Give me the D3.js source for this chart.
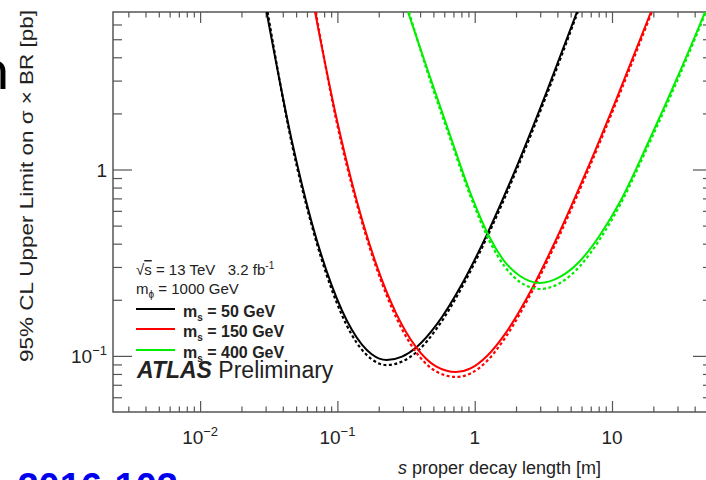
<!DOCTYPE html>
<html>
<head>
<meta charset="utf-8">
<script src="https://cdn.jsdelivr.net/npm/d3@7"></script>
<style>
body { margin: 0; background: #fff; }
text { font-family: "Liberation Sans", Arial, Helvetica, sans-serif; }
</style>
</head>
<body>
<svg id="chart" width="706" height="480"></svg>
<script>
// axis ticks
var xMajor = [0.01, 0.1, 1, 10];
var xMinor = [0.003, 0.004, 0.005, 0.006, 0.007, 0.008, 0.009,
              0.02, 0.03, 0.04, 0.05, 0.06, 0.07, 0.08, 0.09,
              0.2, 0.3, 0.4, 0.5, 0.6, 0.7, 0.8, 0.9,
              2, 3, 4, 5, 6, 7, 8, 9, 20, 30, 40, 50];
var xLabels = [["10", "\u22122"], ["10", "\u22121"], ["1", ""], ["10", ""]];
var yMajor = [0.1, 1];
var yMinor = [0.06, 0.07, 0.08, 0.09, 0.2, 0.3, 0.4, 0.5, 0.6, 0.7, 0.8, 0.9, 2, 3, 4, 5, 6];
var yLabels = [["10", "\u22121"], ["1", ""]];

// m_s = 50 GeV (solid and dashed)
var ms50X      = [0.0305, 0.0465, 0.065, 0.0909, 0.1271, 0.1777, 0.2285, 0.2955, 0.38, 0.531, 0.808, 1.229, 2.033, 3.363, 5.56];
var ms50Y      = [7.0, 1.433, 0.520, 0.239, 0.1385, 0.102, 0.095, 0.0991, 0.112, 0.148, 0.243, 0.449, 1.047, 2.641, 7.0];
var ms50DashX  = [0.031, 0.0465, 0.065, 0.0909, 0.1271, 0.1777, 0.2285, 0.2955, 0.38, 0.531, 0.808, 1.229, 2.033, 3.363, 5.63];
var ms50DashY  = [7.0, 1.381, 0.502, 0.227, 0.130, 0.0959, 0.0893, 0.0932, 0.1053, 0.1408, 0.234, 0.433, 1.009, 2.545, 7.0];
// m_s = 150 GeV
var ms150X     = [0.0687, 0.0977, 0.1366, 0.191, 0.2672, 0.3737, 0.5225, 0.731, 0.94, 1.229, 1.69, 2.57, 3.909, 6.466, 10.69, 19.23];
var ms150Y     = [7.0, 1.937, 0.7035, 0.3127, 0.1697, 0.1115, 0.0879, 0.082, 0.0859, 0.0999, 0.1334, 0.2245, 0.4197, 0.9675, 2.36, 7.0];
var ms150DashX = [0.0695, 0.0977, 0.1366, 0.191, 0.2672, 0.3737, 0.5225, 0.731, 0.94, 1.229, 1.69, 2.57, 3.909, 6.466, 10.69, 19.5];
var ms150DashY = [7.0, 1.866, 0.678, 0.301, 0.1615, 0.1048, 0.0826, 0.0771, 0.0807, 0.0939, 0.127, 0.2163, 0.4044, 0.932, 2.274, 7.0];
// m_s = 400 GeV
var ms400X     = [0.3267, 0.4725, 0.6607, 0.9242, 1.292, 1.663, 2.138, 2.99, 4.181, 5.847, 8.178, 11.63, 18.29, 30.25, 47.57, 53.5];
var ms400Y     = [7.0, 3.137, 1.532, 0.7575, 0.4292, 0.3189, 0.2683, 0.2461, 0.2651, 0.3229, 0.4453, 0.686, 1.388, 3.176, 7.0, 8.74];
var ms400DashX = [0.332, 0.4725, 0.6607, 0.9242, 1.292, 1.663, 2.138, 2.99, 4.181, 5.847, 8.178, 11.63, 18.29, 30.25, 53.5];
var ms400DashY = [7.0, 3.023, 1.476, 0.730, 0.4085, 0.2998, 0.2491, 0.2285, 0.2461, 0.3035, 0.4238, 0.661, 1.337, 3.06, 8.42];

var series = [
    {label: "50", color: "#000000", x: ms50X, y: ms50Y, dx: ms50DashX, dy: ms50DashY},
    {label: "150", color: "#ff0000", x: ms150X, y: ms150Y, dx: ms150DashX, dy: ms150DashY},
    {label: "400", color: "#00ee00", x: ms400X, y: ms400Y, dx: ms400DashX, dy: ms400DashY}
];

var frameL = 113, frameR = 712, frameT = 12, frameB = 412;
var svg = d3.select("#chart");
var x = d3.scaleLog().domain([0.00232, 53.5]).range([frameL, frameR]);
var y = d3.scaleLog().domain([0.05, 7]).range([frameB, frameT]);
var axisColor = "#555";
var textColor = "#222";

// slide fragments around the cropped figure
svg.append("text").attr("x", 9).attr("y", 89).attr("text-anchor", "end")
    .style("font-size", "58px").style("font-family", "Carlito, 'Liberation Sans', sans-serif")
    .attr("fill", "#000").text("n");
svg.append("text").attr("x", 178).attr("y", 500).attr("text-anchor", "end")
    .style("font-size", "38px").style("font-weight", "bold")
    .attr("fill", "#0000ee").text("2016-103");

// clip
svg.append("clipPath").attr("id", "clip").append("rect")
    .attr("x", frameL).attr("y", frameT).attr("width", frameR - frameL).attr("height", frameB - frameT);

function ticks(g) {
    g.select(".domain").remove();
    g.selectAll("line").attr("stroke", axisColor).attr("stroke-width", 1.2);
}
// bottom / top
svg.append("g").attr("transform", "translate(0," + frameB + ")")
    .call(d3.axisBottom(x).tickValues(xMinor).tickSize(-5.5).tickFormat("")).call(ticks);
svg.append("g").attr("transform", "translate(0," + frameB + ")")
    .call(d3.axisBottom(x).tickValues(xMajor).tickSize(-11).tickFormat("")).call(ticks);
svg.append("g").attr("transform", "translate(0," + frameT + ")")
    .call(d3.axisTop(x).tickValues(xMinor).tickSize(-5.5).tickFormat("")).call(ticks);
svg.append("g").attr("transform", "translate(0," + frameT + ")")
    .call(d3.axisTop(x).tickValues(xMajor).tickSize(-11).tickFormat("")).call(ticks);
// left / right
svg.append("g").attr("transform", "translate(" + frameL + ",0)")
    .call(d3.axisLeft(y).tickValues(yMinor).tickSize(-9).tickFormat("")).call(ticks);
svg.append("g").attr("transform", "translate(" + frameL + ",0)")
    .call(d3.axisLeft(y).tickValues(yMajor).tickSize(-19).tickFormat("")).call(ticks);
svg.append("g").attr("transform", "translate(" + frameR + ",0)")
    .call(d3.axisRight(y).tickValues(yMinor).tickSize(-9).tickFormat("")).call(ticks);
svg.append("g").attr("transform", "translate(" + frameR + ",0)")
    .call(d3.axisRight(y).tickValues(yMajor).tickSize(-19).tickFormat("")).call(ticks);

svg.append("rect").attr("x", frameL).attr("y", frameT)
    .attr("width", frameR - frameL).attr("height", frameB - frameT)
    .attr("fill", "none").attr("stroke", axisColor).attr("stroke-width", 1.5);

// tick labels
xMajor.forEach(function(v, i) {
    var t = svg.append("text").attr("x", x(v)).attr("y", 444)
        .attr("text-anchor", "middle").attr("fill", textColor).style("font-size", "19px");
    t.append("tspan").text(xLabels[i][0]);
    if (xLabels[i][1]) t.append("tspan").attr("dy", -8).style("font-size", "13px").text(xLabels[i][1]);
});
yMajor.forEach(function(v, i) {
    var t = svg.append("text").attr("x", 107).attr("y", y(v) + 7)
        .attr("text-anchor", "end").attr("fill", textColor).style("font-size", "19px");
    t.append("tspan").text(yLabels[i][0]);
    if (yLabels[i][1]) t.append("tspan").attr("dy", -8).style("font-size", "13px").text(yLabels[i][1]);
});

// axis titles
svg.append("text").attr("transform", "translate(33,186) rotate(-90)")
    .attr("text-anchor", "middle").attr("fill", textColor).style("font-size", "18px")
    .attr("textLength", 352).attr("lengthAdjust", "spacingAndGlyphs")
    .text("95% CL Upper Limit on \u03c3 \u00d7 BR [pb]");
var xt = svg.append("text").attr("x", 398).attr("y", 474).attr("fill", textColor).style("font-size", "18px");
xt.append("tspan").style("font-style", "italic").text("s");
xt.append("tspan").text(" proper decay length [m]");

// curves
var plot = svg.append("g").attr("clip-path", "url(#clip)");
var line = d3.line().x(function(d) { return x(d[0]); }).y(function(d) { return y(d[1]); })
    .curve(d3.curveMonotoneX);
series.forEach(function(s) {
    plot.append("path").datum(d3.zip(s.dx, s.dy)).attr("d", line)
        .attr("fill", "none").attr("stroke", s.color).attr("stroke-width", 2.2)
        .attr("stroke-dasharray", "3,2.5");
    plot.append("path").datum(d3.zip(s.x, s.y)).attr("d", line)
        .attr("fill", "none").attr("stroke", s.color).attr("stroke-width", 2);
});

// legend
var h1 = svg.append("text").attr("x", 136).attr("y", 275).attr("fill", textColor).style("font-size", "15px");
h1.append("tspan").text("\u221a");
h1.append("tspan").style("text-decoration", "overline").text("s");
h1.append("tspan").text(" = 13 TeV\u00a0\u00a0\u00a03.2 fb");
h1.append("tspan").attr("dy", -6).style("font-size", "10px").text("-1");
var h2 = svg.append("text").attr("x", 136).attr("y", 294).attr("fill", textColor).style("font-size", "15px");
h2.append("tspan").text("m");
h2.append("tspan").attr("dy", 4).style("font-size", "10px").text("\u03d5");
h2.append("tspan").attr("dy", -4).text(" = 1000 GeV");

var legendLineY = [309, 329, 350];
series.forEach(function(s, i) {
    svg.append("line").attr("x1", 136).attr("x2", 175)
        .attr("y1", legendLineY[i]).attr("y2", legendLineY[i])
        .attr("stroke", s.color).attr("stroke-width", 2);
    var t = svg.append("text").attr("x", 183).attr("y", legendLineY[i] + 7.5)
        .attr("fill", textColor).style("font-size", "16px").style("font-weight", "bold");
    t.append("tspan").text("m");
    t.append("tspan").attr("dy", 4).style("font-size", "10px").text("s");
    t.append("tspan").attr("dy", -4).text(" = " + s.label + " GeV");
});

var atlas = svg.append("text").attr("x", 137).attr("y", 378).attr("fill", textColor).style("font-size", "23px");
atlas.append("tspan").style("font-weight", "bold").style("font-style", "italic").text("ATLAS");
atlas.append("tspan").text(" Preliminary");
</script>
</body>
</html>
